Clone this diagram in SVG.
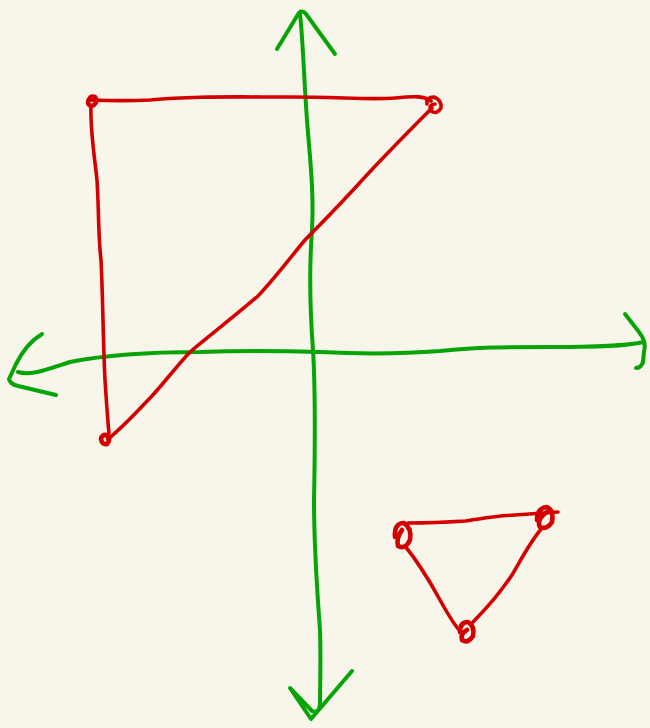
<svg xmlns="http://www.w3.org/2000/svg" width="650" height="728" viewBox="0 0 650 728">
<style>
.g{fill:none;stroke:#06a406;stroke-width:4;stroke-linecap:round;stroke-linejoin:round}
.r{fill:none;stroke:#d40000;stroke-width:3.6;stroke-linecap:round;stroke-linejoin:round}
.k{fill:none;stroke:#d40000;stroke-width:4.6;stroke-linecap:round;stroke-linejoin:round}
</style>
<rect width="650" height="728" fill="#f8f6ea"/>
<g id="axes">
<path class="g" d="M300,14 C303,40 304,80 307,120 C310,160 314,190 312,230 C309,270 310,310 313,350 C316,400 315,450 314,500 C314,550 317,590 320,630 C321,660 320,690 320,702 Q320,714 312,711 L290,688 L311,719 L352,671"/>
<path class="g" d="M277,49 L297,16 Q301,8 306,14 L335,54"/>
<path class="g" d="M42,334 C32,340 22,352 16,364 L9,379 Q10,384 18,386 L56,395"/>
<path class="g" d="M18,372 C30,376 45,370 70,362 C110,354 160,352 200,352 C250,350 290,351 320,352 C360,354 400,354 440,351 C480,347 500,347 550,347 C600,347 625,346 644,342"/>
<path class="g" d="M625,314 L639,332 Q647,342 644,352 L643,362 Q641,368 636,368"/>
</g>
<g id="rectangle-shape">
<path class="r" d="M90,100 C115,101 130,101 150,100 C190,96 230,97 290,97 C340,97 370,100 395,98 C415,96 425,96 431,101"/>
<path class="r" d="M91,106 C90,130 95,160 97,180 C99,210 98,235 101,260 C103,300 103,340 105,380 C107,410 108,425 109,433"/>
<path class="k" d="M88,103 Q89,95 95,97 Q98,102 94,105 Q89,107 88,103 Z"/>
<path class="r" d="M432,108 C410,130 380,160 355,188 C330,215 320,225 305,240 C290,258 275,278 258,296 C235,316 210,335 190,352 C175,368 160,388 150,398 C135,414 122,428 108,439"/>
<path class="r" d="M427,104 Q426,97 434,97 Q442,100 441,108 Q437,115 431,111 Q428,105 435,104"/>
<path class="k" d="M101,439 Q102,434 107,435 Q111,440 107,444 Q102,445 101,439 Z"/>
</g>
<g id="triangle-shape">
<path class="r" d="M408,523 C430,523 450,522 465,521 C480,519 495,516 515,515 C530,514 545,513 558,512"/>
<path class="k" d="M395,537 Q394,523 404,523 Q412,528 410,540 Q405,550 398,546 Q396,538 402,530"/>
<path class="k" d="M537,520 Q537,508 547,507 Q554,510 552,522 Q547,530 540,527 Q536,520 547,512"/>
<path class="r" d="M405,546 C418,562 428,578 440,600 C450,618 456,628 462,633"/>
<path class="r" d="M473,622 C490,605 502,590 512,575 C522,558 530,542 542,528"/>
<path class="k" d="M460,632 Q460,622 468,622 Q475,626 473,636 Q468,644 462,640 Q460,634 467,630"/>
</g>
</svg>
